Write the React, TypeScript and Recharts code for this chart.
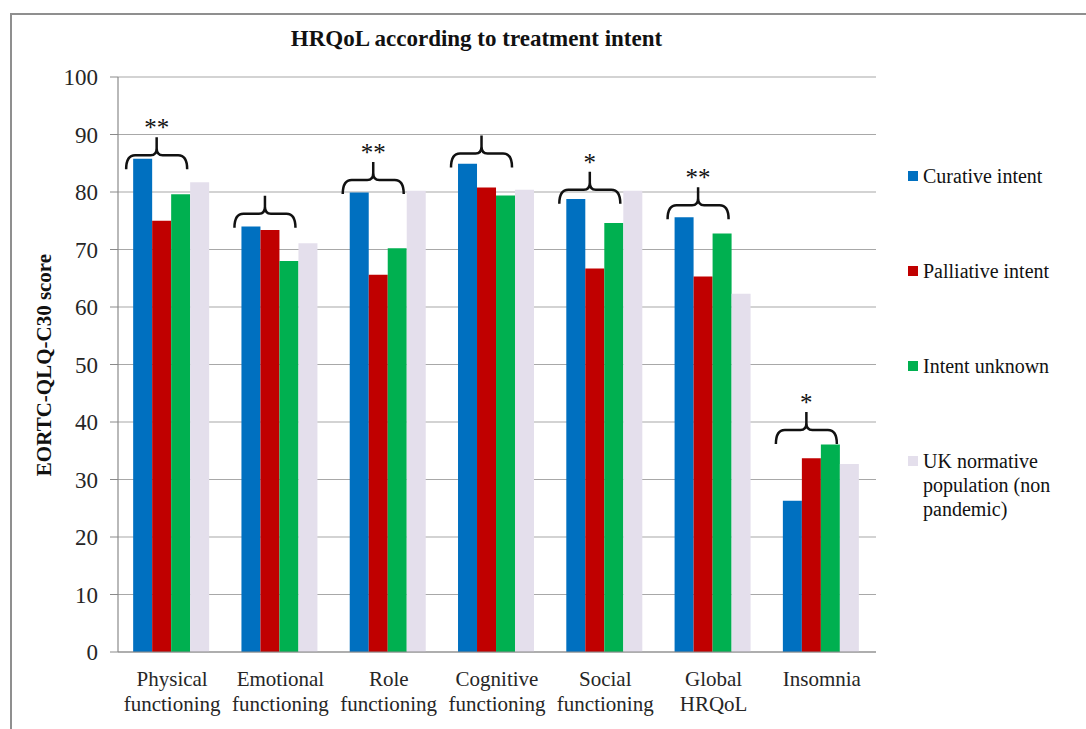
import React from 'react';
import { BarChart, Bar, XAxis, YAxis, CartesianGrid, LabelList } from 'recharts';

const categories = [
  ['Physical', 'functioning'],
  ['Emotional', 'functioning'],
  ['Role', 'functioning'],
  ['Cognitive', 'functioning'],
  ['Social', 'functioning'],
  ['Global', 'HRQoL'],
  ['Insomnia'],
];
const curative = [85.8, 74.0, 79.9, 84.9, 78.8, 75.6, 26.3];
const palliative = [75.0, 73.4, 65.6, 80.8, 66.7, 65.3, 33.7];
const unknown = [79.6, 68.0, 70.2, 79.4, 74.6, 72.8, 36.1];
const ukNorm = [81.7, 71.1, 80.2, 80.4, 80.2, 62.3, 32.7];
// brace height (in score units) and significance marks per group
const braceLevels = [86.4, 76.2, 82.1, 86.7, 80.4, 77.7, 38.6];
const significance = ['**', '', '**', '', '*', '**', '*'];
const yTicks = [0, 10, 20, 30, 40, 50, 60, 70, 80, 90, 100];
const edgeTicks = [0, 1, 2, 3, 4, 5, 6, 7];

const series = [
  { key: 'curative', name: 'Curative intent', color: '#0070C0' },
  { key: 'palliative', name: 'Palliative intent', color: '#C00000' },
  { key: 'unknown', name: 'Intent unknown', color: '#00B050' },
  { key: 'uk', name: 'UK normative population (non pandemic)', color: '#E4DFEC' },
];
const legendLines = [['Curative intent'], ['Palliative intent'], ['Intent unknown'], ['UK normative', 'population (non', 'pandemic)']];

const data = categories.map((c, i) => ({
  name: c.join(' '),
  curative: curative[i],
  palliative: palliative[i],
  unknown: unknown[i],
  uk: ukNorm[i],
}));

const serif = "'Liberation Serif', serif";

const CategoryTick = (props: any) => {
  const { x, y, payload } = props;
  const lines = categories[payload.index] || [payload.value];
  return (
    <text x={x} y={y} textAnchor="middle" fill="#262626" fontSize={21} fontFamily={serif}>
      {lines.map((l, k) => (
        <tspan key={k} x={x} y={y + 34 + k * 25}>{l}</tspan>
      ))}
    </text>
  );
};

const Brace = (props: any) => {
  const { x, y, width, height, value } = props;
  let index = props.index;
  if (index === undefined || index === null) index = curative.indexOf(value);
  if (!height || !value) return null;
  const perUnit = height / value;
  const bottom = y + height;
  const yl = bottom - braceLevels[index] * perUnit;
  const left = x - 7;
  const right = x + 3 * width - 3;
  const cx = (left + right) / 2;
  const d = `M${left},${yl + 14} Q${left},${yl} ${left + 9},${yl} L${cx - 6},${yl} Q${cx},${yl} ${cx},${yl - 7} L${cx},${yl - 18} M${cx},${yl - 7} Q${cx},${yl} ${cx + 6},${yl} L${right - 9},${yl} Q${right},${yl} ${right},${yl + 14}`;
  return (
    <g>
      <path d={d} fill="none" stroke="#111" strokeWidth={2.5} />
      {significance[index] ? (
        <text x={cx} y={yl - 19} textAnchor="middle" fontSize={25} fontFamily={serif} fill="#111">
          {significance[index]}
        </text>
      ) : null}
    </g>
  );
};

const YLabel = () => (
  <text
    x={0}
    y={0}
    transform="translate(51,365) rotate(-90)"
    textAnchor="middle"
    fontSize={21}
    fontWeight="bold"
    fontFamily={serif}
    fill="#111"
  >
    EORTC-QLQ-C30 score
  </text>
);

export default function App() {
  return (
    <div style={{ position: 'absolute', left: 0, top: 0, width: 1086, height: 729, background: '#fff' }}>
      <div
        style={{
          position: 'absolute',
          left: 10,
          top: 13,
          width: 1076,
          height: 716,
          borderTop: '2px solid #8f8f8f',
          borderLeft: '2px solid #8f8f8f',
        }}
      />
      <div
        style={{
          position: 'absolute',
          left: 0,
          width: 953,
          top: 26,
          textAlign: 'center',
          fontFamily: serif,
          fontWeight: 'bold',
          fontSize: 23,
          color: '#111',
        }}
      >
        HRQoL according to treatment intent
      </div>
      <div style={{ position: 'absolute', left: 0, top: 0 }}>
        <BarChart
          width={1086}
          height={729}
          data={data}
          margin={{ top: 77, right: 210, bottom: 17, left: 58 }}
          barCategoryGap="14%"
          barGap={0}
        >
          <CartesianGrid vertical={false} stroke="#a8a8a8" strokeWidth={1.2} />
          <XAxis
            xAxisId="edges"
            type="number"
            domain={[0, 7]}
            ticks={edgeTicks}
            allowDataOverflow
            tick={false}
            tickLine={{ stroke: '#8a8a8a' }}
            tickSize={8}
            axisLine={false}
            height={0}
          />
          <XAxis
            dataKey="name"
            interval={0}
            tickLine={false}
            tickSize={0}
            tickMargin={0}
            axisLine={{ stroke: '#8a8a8a', strokeWidth: 1.2 }}
            tick={<CategoryTick />}
            height={60}
          />
          <YAxis
            domain={[0, 100]}
            ticks={yTicks}
            width={60}
            tickSize={8}
            tickMargin={12}
            axisLine={{ stroke: '#8a8a8a', strokeWidth: 1.2 }}
            tickLine={{ stroke: '#8a8a8a' }}
            tick={{ fill: '#262626', fontSize: 23, fontFamily: serif }}
            label={<YLabel />}
          />
          {series.map((s, si) => (
            <Bar key={s.key} dataKey={s.key} name={s.name} fill={s.color} isAnimationActive={false}>
              {si === 0 ? <LabelList dataKey="curative" content={<Brace />} /> : null}
            </Bar>
          ))}
        </BarChart>
      </div>
      {series.map((s, i) => (
        <div
          key={s.key}
          style={{
            position: 'absolute',
            left: 908,
            top: 164 + i * 95,
            fontFamily: serif,
            fontSize: 20,
            lineHeight: '24px',
            color: '#111',
          }}
        >
          <div style={{ position: 'absolute', left: 0, top: 7, width: 10, height: 10, background: s.color }} />
          <div style={{ position: 'absolute', left: 15, top: 0, whiteSpace: 'nowrap' }}>
            {legendLines[i].map((l, k) => (
              <div key={k}>{l}</div>
            ))}
          </div>
        </div>
      ))}
    </div>
  );
}
